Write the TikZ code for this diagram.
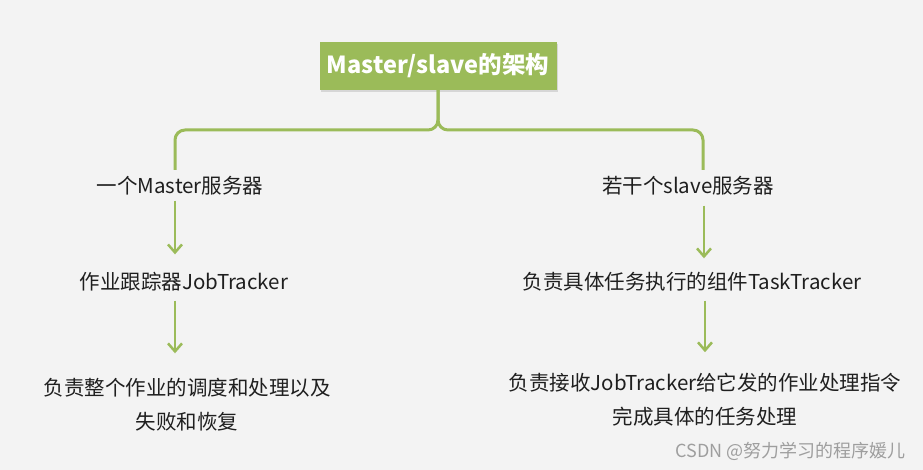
\documentclass[tikz,border=0pt]{standalone}
\usepackage{fontspec}
\setmainfont{Noto Sans CJK SC}
\usetikzlibrary{arrows.meta,shadows}
\definecolor{boxgreen}{HTML}{9BBB59}
\definecolor{bggray}{HTML}{F3F3F3}
\definecolor{marktext}{HTML}{9E9E9E}

\begin{document}
\begin{tikzpicture}[x=1pt,y=-1pt,
    title_node/.style={fill=boxgreen, text=white, font=\fontsize{23.5}{28}\selectfont\bfseries,
        minimum width=237pt, minimum height=48pt,
        drop shadow={shadow xshift=1pt, shadow yshift=-2pt, opacity=0.25}},
    text_node/.style={font=\fontsize{20.5}{34}\selectfont, text=black!88, align=center, inner sep=2pt},
    brace_line/.style={draw=boxgreen, line width=3pt, rounded corners=10pt},
    arrow_line/.style={draw=boxgreen, line width=2.5pt, -{Straight Barb[length=8pt,width=14pt]}}]
    \fill[bggray] (0,0) rectangle (923,470);
    \useasboundingbox (0,0) rectangle (923,470);

    \node[title_node] (title) at (438,66) {Master/slave的架构};
    \coordinate (fork) at (438,130);

    \node[text_node] (m1) at (180,186) {一个Master服务器};
    \node[text_node] (m2) at (184,282) {作业跟踪器JobTracker};
    \node[text_node] (m3) at (187,405) {负责整个作业的调度和处理以及\\失败和恢复};

    \node[text_node] (s1) at (688,186) {若干个slave服务器};
    \node[text_node] (s2) at (692,282) {负责具体任务执行的组件TaskTracker};
    \node[text_node] (s3) at (705,400) {负责接收JobTracker给它发的作业处理指令\\完成具体的任务处理};

    \node[font=\fontsize{18}{20}\selectfont, text=marktext, anchor=east] (mark) at (909,451) {CSDN @努力学习的程序媛儿};

    \draw[brace_line] (title.south) -- (fork) -| (175,170);
    \draw[brace_line] (title.south) -- (fork) -| (703,170);

    \draw[arrow_line, shorten <=3pt, shorten >=16pt] (m1.south -| 175,0) -- (m2.north -| 175,0);
    \draw[arrow_line, shorten <=7pt, shorten >=23pt] (m2.south -| 175,0) -- (m3.north -| 175,0);
    \draw[arrow_line, shorten <=8pt, shorten >=12pt] (s1.south -| 704,0) -- (s2.north -| 704,0);
    \draw[arrow_line, shorten <=7pt, shorten >=19pt] (s2.south -| 705,0) -- (s3.north -| 705,0);

\end{tikzpicture}
\end{document}
